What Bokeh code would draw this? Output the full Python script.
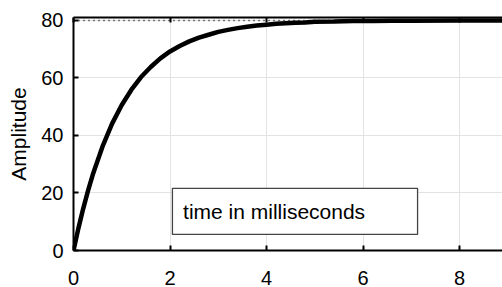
from bokeh.plotting import figure
from bokeh.models import LinearAxis, FixedTicker, Range1d, Span, BoxAnnotation, Label
from bokeh.embed import file_html
from bokeh.resources import INLINE

# time in milliseconds and response amplitude
time_ms = [0, 0.1, 0.2, 0.3, 0.4, 0.6, 0.8, 1.0, 1.2, 1.4, 1.6, 1.8, 2.0, 2.2, 2.4, 2.6,
           2.8, 3.0, 3.2, 3.4, 3.6, 3.8, 4.0, 4.2, 4.4, 4.6, 4.8, 5.0, 5.4, 5.8, 6.2,
           6.6, 7.0, 8.0, 9.0]
amplitude = [0, 7.6, 14.5, 20.7, 26.4, 36.1, 44.1, 50.6, 55.9, 60.3, 63.8, 66.8, 69.2,
             71.1, 72.7, 74.0, 75.0, 76.0, 76.7, 77.3, 77.8, 78.2, 78.5, 78.8, 79.0,
             79.2, 79.3, 79.5, 79.6, 79.8, 79.8, 79.9, 79.9, 80.0, 80.0]
final_value = 80
x_ticks = [0, 2, 4, 6, 8]
y_ticks = [0, 20, 40, 60, 80]
note_text = "time in milliseconds"

FONT = "Liberation Sans"

p = figure(width=502, height=287, output_backend="svg", toolbar_location=None,
           x_range=Range1d(0, 8.89), y_range=Range1d(0, 81),
           min_border_left=73, min_border_right=0, min_border_top=17, min_border_bottom=37,
           x_axis_location=None, y_axis_location=None)
p.outline_line_color = None
p.background_fill_color = "white"

def style_axis(ax):
    ax.axis_line_color = "black"
    ax.axis_line_width = 2
    ax.major_tick_line_color = "black"
    ax.major_tick_line_width = 2
    ax.major_tick_in = 5
    ax.major_tick_out = 0
    ax.minor_tick_line_color = None
    ax.major_label_text_font = FONT
    ax.major_label_text_font_size = "20px"
    ax.major_label_text_color = "black"

xb = LinearAxis(ticker=FixedTicker(ticks=x_ticks))
style_axis(xb)
xb.major_label_standoff = 20
p.add_layout(xb, "below")

yl = LinearAxis(ticker=FixedTicker(ticks=y_ticks), axis_label="Amplitude")
style_axis(yl)
yl.major_label_standoff = 10
yl.axis_label_text_font = FONT
yl.axis_label_text_font_size = "21px"
yl.axis_label_text_font_style = "normal"
yl.axis_label_text_color = "black"
yl.axis_label_standoff = 8
p.add_layout(yl, "left")

xt = LinearAxis(ticker=FixedTicker(ticks=x_ticks), major_label_overrides={t: "" for t in x_ticks})
style_axis(xt)
xt.major_label_standoff = 0
p.add_layout(xt, "above")

p.xgrid.ticker = FixedTicker(ticks=x_ticks)
p.ygrid.ticker = FixedTicker(ticks=y_ticks)
p.xgrid.grid_line_color = "#e3e3e3"
p.ygrid.grid_line_color = "#e3e3e3"
p.xgrid.grid_line_width = 1
p.ygrid.grid_line_width = 1

p.add_layout(Span(location=final_value, dimension="width", line_color="black",
                  line_width=1.5, line_dash="1 4"))

p.line(time_ms, amplitude, line_color="black", line_width=4.5)

p.add_layout(BoxAnnotation(left=2.05, right=7.13, bottom=5.6, top=21.6,
                           fill_color="white", fill_alpha=1.0,
                           line_color="#444444", line_alpha=1.0, line_width=1.3,
                           level="overlay"))
p.add_layout(Label(x=2.27, y=13.6, text=note_text, text_font=FONT,
                   text_font_size="21px", text_baseline="middle", text_color="black",
                   level="overlay"))

open("out.html", "w").write(file_html(p, INLINE))
